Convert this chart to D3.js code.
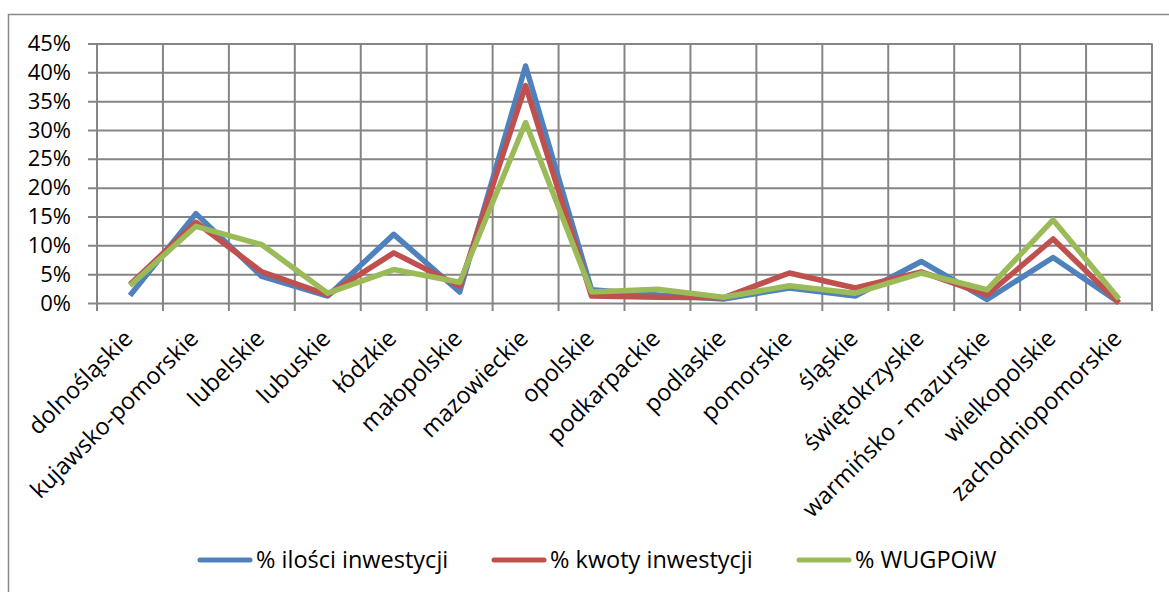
<!DOCTYPE html>
<html>
<head>
<meta charset="utf-8">
<script src="https://cdn.jsdelivr.net/npm/d3@7"></script>
<style>
  body { margin: 0; background: #fff; }
  text { font-family: "Open Sans", "Noto Sans", sans-serif; fill: #000; }
</style>
</head>
<body>
<div id="chart"></div>
<script>
// regions (województwa)
const regions = ["dolnośląskie", "kujawsko-pomorskie", "lubelskie", "lubuskie", "łódzkie",
  "małopolskie", "mazowieckie", "opolskie", "podkarpackie", "podlaskie", "pomorskie",
  "śląskie", "świętokrzyskie", "warmińsko - mazurskie", "wielkopolskie", "zachodniopomorskie"];

// values in %
const ilosc = [1.3, 15.5, 4.6, 1.2, 11.9, 1.9, 41.1, 2.3, 1.4, 0.7, 2.6, 1.2, 7.2, 0.6, 7.9, 0.1];
const kwota = [3.2, 14.0, 5.4, 1.4, 8.7, 2.9, 37.7, 1.2, 1.0, 0.9, 5.2, 2.6, 5.4, 1.4, 11.1, 0.0];
const wug = [3.0, 13.3, 10.1, 1.7, 5.8, 3.6, 31.3, 1.9, 2.4, 1.0, 3.0, 1.7, 5.2, 2.3, 14.4, 0.7];

const seriesNames = ["% ilości inwestycji", "% kwoty inwestycji", "% WUGPOiW"];
const colors = ["#4f81bd", "#c0504d", "#9bbb59"];
const yTicks = [0, 5, 10, 15, 20, 25, 30, 35, 40, 45];

const width = 1169, height = 592;
const plotLeft = 97, plotRight = 1152, plotTop = 43.5, plotBottom = 303;

const svg = d3.select("#chart").append("svg")
  .attr("width", width).attr("height", height);

// outer frame
svg.append("rect")
  .attr("x", 8.5).attr("y", 14.5)
  .attr("width", width).attr("height", height)
  .attr("fill", "none").attr("stroke", "#888").attr("stroke-width", 1.5);

const x = d3.scaleBand().domain(regions).range([plotLeft, plotRight]);
const y = d3.scaleLinear().domain([0, 45]).range([plotBottom, plotTop]);

// horizontal gridlines + y axis
const yAxis = svg.append("g")
  .attr("transform", `translate(${plotLeft},0)`)
  .call(d3.axisLeft(y).tickValues(yTicks).tickFormat(d => d + "%")
    .tickSize(-(plotRight - plotLeft)));
yAxis.select(".domain").remove();
yAxis.selectAll(".tick line").attr("stroke", "#858585").attr("stroke-width", 2)
  .attr("x1", -9);
yAxis.selectAll("text").attr("font-size", 22).attr("fill", "#000")
  .attr("x", -26);

// vertical gridlines on category boundaries
const bounds = regions.map(r => x(r)).concat([plotRight]);
svg.append("g").selectAll("line")
  .data(bounds).join("line")
  .attr("x1", d => d).attr("x2", d => d)
  .attr("y1", plotTop).attr("y2", plotBottom + 8)
  .attr("stroke", "#858585").attr("stroke-width", 2);

// x labels
svg.append("g").selectAll("text")
  .data(regions).join("text")
  .attr("transform", d => `translate(${x(d) + x.bandwidth() / 2 + 4},${plotBottom + 37}) rotate(-45)`)
  .attr("text-anchor", "end")
  .attr("font-size", 23.5)
  .text(d => d);

// lines
const line = d3.line()
  .x((d, i) => x(regions[i]) + x.bandwidth() / 2)
  .y(d => y(d));

[ilosc, kwota, wug].forEach((vals, k) => {
  svg.append("path")
    .datum(vals)
    .attr("fill", "none")
    .attr("stroke", colors[k])
    .attr("stroke-width", 5.5)
    .attr("stroke-linejoin", "round")
    .attr("d", line);
});

// legend
const legendX = [200, 494, 799];
const legend = svg.append("g").selectAll("g")
  .data(seriesNames).join("g")
  .attr("transform", (d, i) => `translate(${legendX[i]},560)`);
legend.append("line")
  .attr("x1", 0).attr("x2", 50)
  .attr("stroke", (d, i) => colors[i])
  .attr("stroke-width", 5)
  .attr("stroke-linecap", "round");
legend.append("text")
  .attr("x", 56).attr("dy", "0.35em")
  .attr("font-size", 23.5)
  .text(d => d);
</script>
</body>
</html>
